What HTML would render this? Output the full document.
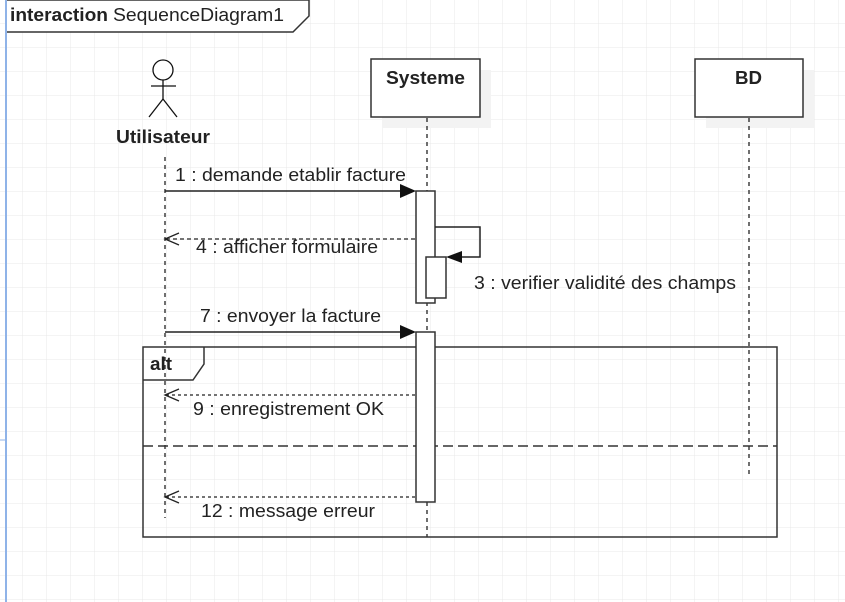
<!DOCTYPE html>
<html><head><meta charset="utf-8"><style>
html,body{margin:0;padding:0;background:#fff;}
svg{display:block;}
text{font-family:"Liberation Sans",Arial,sans-serif;fill:#222;}
</style></head><body>
<svg width="845" height="602" viewBox="0 0 845 602" xmlns="http://www.w3.org/2000/svg">
<defs>
<pattern id="g" width="24" height="24" patternUnits="userSpaceOnUse" x="-1" y="-0.5">
<path d="M24 0V24M0 24H24" stroke="#e8e8e8" stroke-width="1" fill="none"/>
</pattern>
</defs>
<rect width="845" height="602" fill="url(#g)"/>
<line x1="6" y1="0" x2="6" y2="602" stroke="#8fb3e8" stroke-width="2"/>
<line x1="0" y1="440" x2="5" y2="440" stroke="#8fb3e8" stroke-width="1"/>
<!-- title frame -->
<path d="M7 0H309V16L293 32H7" fill="#fff" stroke="#333" stroke-width="1.5"/>
<text x="10" y="21" font-size="18" font-weight="bold" textLength="98" lengthAdjust="spacingAndGlyphs">interaction</text>
<text x="113" y="21" font-size="18" textLength="171" lengthAdjust="spacingAndGlyphs">SequenceDiagram1</text>
<!-- actor -->
<g stroke="#111" stroke-width="1.3" fill="none">
<circle cx="163" cy="70" r="10" fill="#fff"/>
<line x1="163" y1="80" x2="163" y2="99"/>
<line x1="151" y1="86" x2="176" y2="86"/>
<line x1="163" y1="99" x2="149" y2="117"/>
<line x1="163" y1="99" x2="177" y2="117"/>
</g>
<text x="116" y="143" font-size="18" font-weight="bold" textLength="94" lengthAdjust="spacingAndGlyphs">Utilisateur</text>
<!-- boxes -->
<rect x="382" y="70" width="109" height="58" fill="#f3f3f3"/>
<rect x="371" y="59" width="109" height="58" fill="#fff" stroke="#333" stroke-width="1.5"/>
<text x="386" y="84" font-size="18" font-weight="bold" textLength="79" lengthAdjust="spacingAndGlyphs">Systeme</text>
<rect x="706" y="70" width="108" height="58" fill="#f3f3f3"/>
<rect x="695" y="59" width="108" height="58" fill="#fff" stroke="#333" stroke-width="1.5"/>
<text x="735" y="84" font-size="18" font-weight="bold" textLength="27" lengthAdjust="spacingAndGlyphs">BD</text>
<!-- lifelines -->
<g stroke="#222" stroke-width="1.3" stroke-dasharray="4,4">
<line x1="165" y1="157" x2="165" y2="518"/>
<line x1="427" y1="118" x2="427" y2="537"/>
<line x1="749" y1="118" x2="749" y2="475"/>
</g>
<!-- alt frame -->
<rect x="143" y="347" width="634" height="190" fill="none" stroke="#333" stroke-width="1.5"/>
<path d="M143 380H193L204 364V347" fill="none" stroke="#333" stroke-width="1.5"/>
<text x="150" y="370" font-size="18" font-weight="bold" textLength="22" lengthAdjust="spacingAndGlyphs">alt</text>
<line x1="143" y1="446" x2="777" y2="446" stroke="#333" stroke-width="1.5" stroke-dasharray="10,5"/>
<!-- activations -->
<rect x="416" y="191" width="19" height="112" fill="#fff" stroke="#333" stroke-width="1.5"/>
<rect x="426" y="257" width="20" height="41" fill="#fff" stroke="#333" stroke-width="1.5"/>
<rect x="416" y="332" width="19" height="170" fill="#fff" stroke="#333" stroke-width="1.5"/>
<!-- self msg -->
<path d="M435 227H480V257H455" fill="none" stroke="#222" stroke-width="1.5"/>
<path d="M446 257L462 251V263Z" fill="#111"/>
<text x="474" y="289" font-size="18" textLength="262" lengthAdjust="spacingAndGlyphs">3 : verifier validité des champs</text>
<!-- msg 1 -->
<line x1="165" y1="191" x2="404" y2="191" stroke="#222" stroke-width="1.5"/>
<path d="M416 191L400 184V198Z" fill="#111"/>
<text x="175" y="181" font-size="18" textLength="231" lengthAdjust="spacingAndGlyphs">1 : demande etablir facture</text>
<!-- msg 4 -->
<line x1="166" y1="239" x2="416" y2="239" stroke="#222" stroke-width="1.3" stroke-dasharray="4,3"/>
<path d="M179 233L165 239L179 245" fill="none" stroke="#222" stroke-width="1.3"/>
<text x="196" y="253" font-size="18" textLength="182" lengthAdjust="spacingAndGlyphs">4 : afficher formulaire</text>
<!-- msg 7 -->
<line x1="165" y1="332" x2="404" y2="332" stroke="#222" stroke-width="1.5"/>
<path d="M416 332L400 325V339Z" fill="#111"/>
<text x="200" y="322" font-size="18" textLength="181" lengthAdjust="spacingAndGlyphs">7 : envoyer la facture</text>
<!-- msg 9 -->
<line x1="166" y1="395" x2="416" y2="395" stroke="#222" stroke-width="1.3" stroke-dasharray="3,3"/>
<path d="M179 389L165 395L179 401" fill="none" stroke="#222" stroke-width="1.3"/>
<text x="193" y="415" font-size="18" textLength="191" lengthAdjust="spacingAndGlyphs">9 : enregistrement OK</text>
<!-- msg 12 -->
<line x1="166" y1="497" x2="416" y2="497" stroke="#222" stroke-width="1.3" stroke-dasharray="3,3"/>
<path d="M179 491L165 497L179 503" fill="none" stroke="#222" stroke-width="1.3"/>
<text x="201" y="517" font-size="18" textLength="174" lengthAdjust="spacingAndGlyphs">12 : message erreur</text>
</svg>
</body></html>
